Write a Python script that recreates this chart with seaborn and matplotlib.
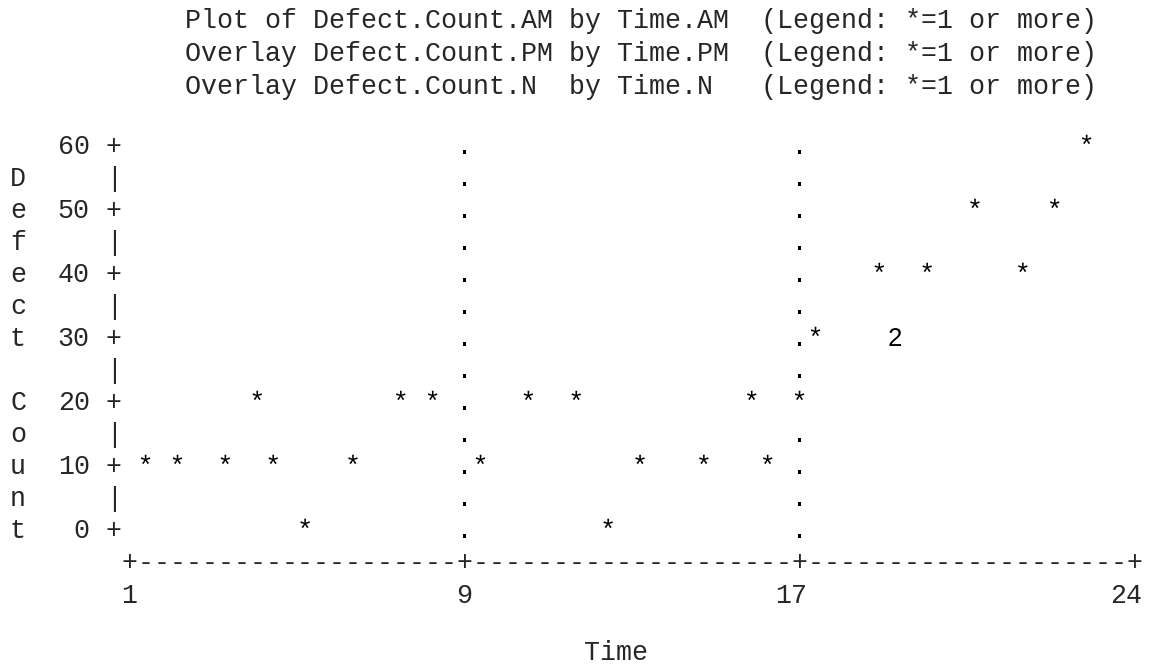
import numpy as np
import pandas as pd
import matplotlib
matplotlib.use("Agg")
import matplotlib.pyplot as plt
from matplotlib.font_manager import FontProperties
from matplotlib.textpath import TextPath
from matplotlib.path import Path
from matplotlib.transforms import Affine2D, ScaledTranslation
import seaborn as sns

# values
time_am = [1.5, 2.25, 3.25, 4.0, 4.5, 5.25, 6.5, 7.5, 8.25]
count_am = [10, 10, 10, 20, 10, 0, 10, 20, 20]
time_pm = [9.5, 10.5, 11.75, 12.5, 13.25, 14.75, 16.0, 16.25, 17.0]
count_pm = [10, 20, 20, 0, 10, 10, 20, 10, 20]
time_n = [17.25, 18.75, 19.0, 19.0, 19.75, 20.75, 21.75, 22.25, 23.0]
count_n = [30, 40, 30, 30, 40, 50, 40, 50, 60]

haxis = [1, 9, 17, 24]
vaxis = [0, 10, 20, 30, 40, 50, 60]
href = [9, 17]
titles = [
    "Plot of Defect.Count.AM by Time.AM  (Legend: *=1 or more)",
    "Overlay Defect.Count.PM by Time.PM  (Legend: *=1 or more)",
    "Overlay Defect.Count.N  by Time.N   (Legend: *=1 or more)",
]
ylabel = "Defect Count"
xlabel = "Time"

# character grid of the page
W, H, DPI = 1150, 670, 100
CW, RH = 15.95, 32.0   # cell width / row pitch in px
X0, Y0 = 18.0, 19.0    # centre of column 0 / row 0
BASE = 7.0             # baseline below row centre, px
MONO = "Liberation Mono"
FS = CW / 0.6001 * 72 / DPI
COLS_PER_TICK = 21
AX_COL = 7             # column of the first horizontal tick
TOP_ROW = 4            # row of the top vertical tick
ROW_STEP = 5           # data units per printed row

tick_cols = np.arange(len(haxis)) * COLS_PER_TICK
lo_slope = (tick_cols[1] - tick_cols[0]) / (haxis[1] - haxis[0])
hi_slope = (tick_cols[-1] - tick_cols[-2]) / (haxis[-1] - haxis[-2])


def to_col(t):
    t = np.asarray(t, float)
    c = np.interp(t, haxis, tick_cols)
    c = np.where(t < haxis[0], (t - haxis[0]) * lo_slope, c)
    c = np.where(t > haxis[-1], tick_cols[-1] + (t - haxis[-1]) * hi_slope, c)
    return c


def from_col(c):
    c = np.asarray(c, float)
    t = np.interp(c, tick_cols, haxis)
    t = np.where(c < tick_cols[0], haxis[0] + c / lo_slope, t)
    t = np.where(c > tick_cols[-1], haxis[-1] + (c - tick_cols[-1]) / hi_slope, t)
    return t


def glyph(ch, family, size):
    # glyph outline as a marker, origin at the centre of the print cell
    tp = TextPath((0, 0), ch, size=size, prop=FontProperties(family=family))
    ext = tp.get_extents()
    v = tp.vertices.copy()
    v[:, 0] -= (ext.x0 + ext.x1) / 2
    v[:, 1] -= BASE * 72 / DPI
    r = np.abs(v).max()
    return Path(v, tp.codes), (2 * r) ** 2


# put the observations into print cells, count collisions
df = pd.DataFrame({
    "time": time_am + time_pm + time_n,
    "count": count_am + count_pm + count_n,
})
df["col"] = np.round(to_col(df["time"])).astype(int)
df["row"] = np.round(df["count"] / ROW_STEP).astype(int)
cells = df.groupby(["col", "row"]).size().reset_index(name="n")
cells["x"] = from_col(cells["col"])
cells["y"] = cells["row"] * ROW_STEP

ref = pd.DataFrame([(h, v) for h in href
                    for v in range(min(vaxis), max(vaxis) + 1, ROW_STEP)],
                   columns=["x", "y"])
ref["col"] = np.round(to_col(ref["x"])).astype(int)
ref["row"] = ref["y"] // ROW_STEP
ref = ref.merge(cells[["col", "row"]], how="left", indicator=True)
ref = ref[ref["_merge"] == "left_only"]

sns.set_style("white")
plt.rcParams["font.family"] = [MONO, "DejaVu Sans"]

fig = plt.figure(figsize=(W / DPI, H / DPI), dpi=DPI)
top_px = Y0 + RH * TOP_ROW
bot_px = top_px + RH * (max(vaxis) - min(vaxis)) / ROW_STEP
ax = fig.add_axes([(X0 + CW * AX_COL) / W, 1 - bot_px / H,
                   CW * tick_cols[-1] / W, (bot_px - top_px) / H])
ax.set_xscale("function", functions=(to_col, from_col))

dot_path, dot_s = glyph(".", MONO, FS)
sns.scatterplot(data=ref, x="x", y="y", marker=dot_path, s=dot_s, color="black",
                linewidth=0, edgecolor="none", clip_on=False, legend=False, ax=ax)

star_path, star_s = glyph("*", MONO, FS)
sns.scatterplot(data=cells[cells["n"] == 1], x="x", y="y", marker=star_path, s=star_s,
                color="black", linewidth=0, edgecolor="none", clip_on=False,
                legend=False, ax=ax)
for n in sorted(cells.loc[cells["n"] > 1, "n"].unique()):
    p, s = glyph(str(n), "Liberation Sans", 18.5)
    sns.scatterplot(data=cells[cells["n"] == n], x="x", y="y", marker=p, s=s,
                    color="black", linewidth=0, edgecolor="none", clip_on=False,
                    legend=False, ax=ax)

ax.set_xlim(haxis[0], haxis[-1])
ax.set_ylim(min(vaxis), max(vaxis))
for sp in ax.spines.values():
    sp.set_visible(False)
ax.grid(False)

# tick labels sit on the character rows / columns
ax.set_xticks(haxis, [str(v) for v in haxis])
ax.set_yticks(vaxis, [str(v) for v in vaxis])
xpad = (RH * 2 + BASE + 1) * 72 / DPI
ypad = (CW * (AX_COL - 4.5)) * 72 / DPI
ax.tick_params(axis="x", length=0, pad=xpad, labelsize=FS)
ax.tick_params(axis="y", length=0, pad=ypad, labelsize=FS)
for lab in ax.get_xticklabels():
    lab.set_ha("right")
    lab.set_va("baseline")
    lab.set_transform(lab.get_transform() + ScaledTranslation(CW / 2 / DPI, 0, fig.dpi_scale_trans))
for lab in ax.get_yticklabels():
    lab.set_va("baseline")
    lab.set_transform(lab.get_transform() + ScaledTranslation(0, -BASE / DPI, fig.dpi_scale_trans))

xl_start = AX_COL + (tick_cols[-1] - len(xlabel)) // 2
ax.set_xlabel(xlabel, fontsize=FS, va="baseline", ha="center")
ax.xaxis.set_label_coords((xl_start + (len(xlabel) - 1) / 2 - AX_COL) / tick_cols[-1],
                          -(Y0 + RH * 20 + BASE - 6 - bot_px) / (bot_px - top_px))
ax.set_ylabel("")

# the rest of the printout, placed on the character grid
page = Affine2D().scale(CW / DPI, -RH / DPI).translate(X0 / DPI, (H - Y0) / DPI) + fig.dpi_scale_trans


def put(col, row, s, ha="center"):
    fig.text(col, row + BASE / RH, s, transform=page, ha=ha, va="baseline",
             fontsize=FS, family=MONO)


# title block prints a touch looser than the plot rows
for i, t in enumerate(titles):
    put(10.5, (2 + 33 * i) / RH, t, ha="left")

nrows = (max(vaxis) - min(vaxis)) // ROW_STEP + 1
for k in range(nrows):
    v = max(vaxis) - k * ROW_STEP
    put(AX_COL - 1, TOP_ROW + k, "+" if v in vaxis else "|")

# horizontal axis, one character per column
for c in range(tick_cols[-1] + 1):
    put(AX_COL + c, TOP_ROW + nrows, "+" if c in tick_cols else "-")

yl_start = TOP_ROW + (nrows - len(ylabel) + 1) // 2
for i, ch in enumerate(ylabel):
    if ch != " ":
        put(0, yl_start + i, ch)

fig.savefig("out.png", dpi=DPI)
